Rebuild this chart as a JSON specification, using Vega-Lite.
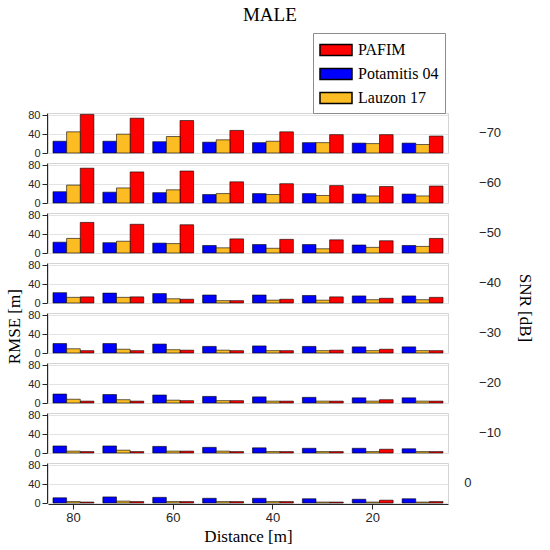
{
  "$schema": "https://vega.github.io/schema/vega-lite/v6.json",
  "description": "MALE: RMSE per distance and SNR for three localisation methods, one row of grouped bars per SNR level.",
  "background": "white",
  "padding": 5,
  "title": {"text": "MALE", "font": "Liberation Serif", "fontSize": 19, "fontWeight": "normal", "color": "#000", "anchor": "middle", "offset": 8},
  "data": {"values": [
    {"method": "PAFIM", "distance": 80, "snr": 0, "rmse": 2},
    {"method": "PAFIM", "distance": 80, "snr": -10, "rmse": 3},
    {"method": "PAFIM", "distance": 80, "snr": -20, "rmse": 4},
    {"method": "PAFIM", "distance": 80, "snr": -30, "rmse": 5},
    {"method": "PAFIM", "distance": 80, "snr": -40, "rmse": 13},
    {"method": "PAFIM", "distance": 80, "snr": -50, "rmse": 65},
    {"method": "PAFIM", "distance": 80, "snr": -60, "rmse": 74},
    {"method": "PAFIM", "distance": 80, "snr": -70, "rmse": 82},
    {"method": "PAFIM", "distance": 70, "snr": 0, "rmse": 3},
    {"method": "PAFIM", "distance": 70, "snr": -10, "rmse": 3},
    {"method": "PAFIM", "distance": 70, "snr": -20, "rmse": 4},
    {"method": "PAFIM", "distance": 70, "snr": -30, "rmse": 5},
    {"method": "PAFIM", "distance": 70, "snr": -40, "rmse": 13},
    {"method": "PAFIM", "distance": 70, "snr": -50, "rmse": 61},
    {"method": "PAFIM", "distance": 70, "snr": -60, "rmse": 66},
    {"method": "PAFIM", "distance": 70, "snr": -70, "rmse": 74},
    {"method": "PAFIM", "distance": 60, "snr": 0, "rmse": 3},
    {"method": "PAFIM", "distance": 60, "snr": -10, "rmse": 4},
    {"method": "PAFIM", "distance": 60, "snr": -20, "rmse": 5},
    {"method": "PAFIM", "distance": 60, "snr": -30, "rmse": 6},
    {"method": "PAFIM", "distance": 60, "snr": -40, "rmse": 8},
    {"method": "PAFIM", "distance": 60, "snr": -50, "rmse": 60},
    {"method": "PAFIM", "distance": 60, "snr": -60, "rmse": 68},
    {"method": "PAFIM", "distance": 60, "snr": -70, "rmse": 69},
    {"method": "PAFIM", "distance": 50, "snr": 0, "rmse": 3},
    {"method": "PAFIM", "distance": 50, "snr": -10, "rmse": 3},
    {"method": "PAFIM", "distance": 50, "snr": -20, "rmse": 5},
    {"method": "PAFIM", "distance": 50, "snr": -30, "rmse": 5},
    {"method": "PAFIM", "distance": 50, "snr": -40, "rmse": 5},
    {"method": "PAFIM", "distance": 50, "snr": -50, "rmse": 30},
    {"method": "PAFIM", "distance": 50, "snr": -60, "rmse": 45},
    {"method": "PAFIM", "distance": 50, "snr": -70, "rmse": 48},
    {"method": "PAFIM", "distance": 40, "snr": 0, "rmse": 3},
    {"method": "PAFIM", "distance": 40, "snr": -10, "rmse": 3},
    {"method": "PAFIM", "distance": 40, "snr": -20, "rmse": 4},
    {"method": "PAFIM", "distance": 40, "snr": -30, "rmse": 5},
    {"method": "PAFIM", "distance": 40, "snr": -40, "rmse": 8},
    {"method": "PAFIM", "distance": 40, "snr": -50, "rmse": 29},
    {"method": "PAFIM", "distance": 40, "snr": -60, "rmse": 41},
    {"method": "PAFIM", "distance": 40, "snr": -70, "rmse": 45},
    {"method": "PAFIM", "distance": 30, "snr": 0, "rmse": 2},
    {"method": "PAFIM", "distance": 30, "snr": -10, "rmse": 3},
    {"method": "PAFIM", "distance": 30, "snr": -20, "rmse": 4},
    {"method": "PAFIM", "distance": 30, "snr": -30, "rmse": 6},
    {"method": "PAFIM", "distance": 30, "snr": -40, "rmse": 13},
    {"method": "PAFIM", "distance": 30, "snr": -50, "rmse": 28},
    {"method": "PAFIM", "distance": 30, "snr": -60, "rmse": 37},
    {"method": "PAFIM", "distance": 30, "snr": -70, "rmse": 39},
    {"method": "PAFIM", "distance": 20, "snr": 0, "rmse": 6},
    {"method": "PAFIM", "distance": 20, "snr": -10, "rmse": 8},
    {"method": "PAFIM", "distance": 20, "snr": -20, "rmse": 7},
    {"method": "PAFIM", "distance": 20, "snr": -30, "rmse": 8},
    {"method": "PAFIM", "distance": 20, "snr": -40, "rmse": 10},
    {"method": "PAFIM", "distance": 20, "snr": -50, "rmse": 26},
    {"method": "PAFIM", "distance": 20, "snr": -60, "rmse": 35},
    {"method": "PAFIM", "distance": 20, "snr": -70, "rmse": 39},
    {"method": "PAFIM", "distance": 10, "snr": 0, "rmse": 3},
    {"method": "PAFIM", "distance": 10, "snr": -10, "rmse": 3},
    {"method": "PAFIM", "distance": 10, "snr": -20, "rmse": 4},
    {"method": "PAFIM", "distance": 10, "snr": -30, "rmse": 5},
    {"method": "PAFIM", "distance": 10, "snr": -40, "rmse": 12},
    {"method": "PAFIM", "distance": 10, "snr": -50, "rmse": 31},
    {"method": "PAFIM", "distance": 10, "snr": -60, "rmse": 36},
    {"method": "PAFIM", "distance": 10, "snr": -70, "rmse": 36},
    {"method": "Potamitis 04", "distance": 80, "snr": 0, "rmse": 11},
    {"method": "Potamitis 04", "distance": 80, "snr": -10, "rmse": 15},
    {"method": "Potamitis 04", "distance": 80, "snr": -20, "rmse": 19},
    {"method": "Potamitis 04", "distance": 80, "snr": -30, "rmse": 20},
    {"method": "Potamitis 04", "distance": 80, "snr": -40, "rmse": 22},
    {"method": "Potamitis 04", "distance": 80, "snr": -50, "rmse": 23},
    {"method": "Potamitis 04", "distance": 80, "snr": -60, "rmse": 24},
    {"method": "Potamitis 04", "distance": 80, "snr": -70, "rmse": 25},
    {"method": "Potamitis 04", "distance": 70, "snr": 0, "rmse": 13},
    {"method": "Potamitis 04", "distance": 70, "snr": -10, "rmse": 15},
    {"method": "Potamitis 04", "distance": 70, "snr": -20, "rmse": 18},
    {"method": "Potamitis 04", "distance": 70, "snr": -30, "rmse": 20},
    {"method": "Potamitis 04", "distance": 70, "snr": -40, "rmse": 21},
    {"method": "Potamitis 04", "distance": 70, "snr": -50, "rmse": 22},
    {"method": "Potamitis 04", "distance": 70, "snr": -60, "rmse": 23},
    {"method": "Potamitis 04", "distance": 70, "snr": -70, "rmse": 25},
    {"method": "Potamitis 04", "distance": 60, "snr": 0, "rmse": 12},
    {"method": "Potamitis 04", "distance": 60, "snr": -10, "rmse": 14},
    {"method": "Potamitis 04", "distance": 60, "snr": -20, "rmse": 17},
    {"method": "Potamitis 04", "distance": 60, "snr": -30, "rmse": 19},
    {"method": "Potamitis 04", "distance": 60, "snr": -40, "rmse": 20},
    {"method": "Potamitis 04", "distance": 60, "snr": -50, "rmse": 21},
    {"method": "Potamitis 04", "distance": 60, "snr": -60, "rmse": 22},
    {"method": "Potamitis 04", "distance": 60, "snr": -70, "rmse": 24},
    {"method": "Potamitis 04", "distance": 50, "snr": 0, "rmse": 10},
    {"method": "Potamitis 04", "distance": 50, "snr": -10, "rmse": 12},
    {"method": "Potamitis 04", "distance": 50, "snr": -20, "rmse": 14},
    {"method": "Potamitis 04", "distance": 50, "snr": -30, "rmse": 14},
    {"method": "Potamitis 04", "distance": 50, "snr": -40, "rmse": 17},
    {"method": "Potamitis 04", "distance": 50, "snr": -50, "rmse": 16},
    {"method": "Potamitis 04", "distance": 50, "snr": -60, "rmse": 18},
    {"method": "Potamitis 04", "distance": 50, "snr": -70, "rmse": 23},
    {"method": "Potamitis 04", "distance": 40, "snr": 0, "rmse": 10},
    {"method": "Potamitis 04", "distance": 40, "snr": -10, "rmse": 11},
    {"method": "Potamitis 04", "distance": 40, "snr": -20, "rmse": 13},
    {"method": "Potamitis 04", "distance": 40, "snr": -30, "rmse": 15},
    {"method": "Potamitis 04", "distance": 40, "snr": -40, "rmse": 17},
    {"method": "Potamitis 04", "distance": 40, "snr": -50, "rmse": 18},
    {"method": "Potamitis 04", "distance": 40, "snr": -60, "rmse": 20},
    {"method": "Potamitis 04", "distance": 40, "snr": -70, "rmse": 22},
    {"method": "Potamitis 04", "distance": 30, "snr": 0, "rmse": 9},
    {"method": "Potamitis 04", "distance": 30, "snr": -10, "rmse": 10},
    {"method": "Potamitis 04", "distance": 30, "snr": -20, "rmse": 12},
    {"method": "Potamitis 04", "distance": 30, "snr": -30, "rmse": 14},
    {"method": "Potamitis 04", "distance": 30, "snr": -40, "rmse": 16},
    {"method": "Potamitis 04", "distance": 30, "snr": -50, "rmse": 18},
    {"method": "Potamitis 04", "distance": 30, "snr": -60, "rmse": 20},
    {"method": "Potamitis 04", "distance": 30, "snr": -70, "rmse": 22},
    {"method": "Potamitis 04", "distance": 20, "snr": 0, "rmse": 8},
    {"method": "Potamitis 04", "distance": 20, "snr": -10, "rmse": 10},
    {"method": "Potamitis 04", "distance": 20, "snr": -20, "rmse": 11},
    {"method": "Potamitis 04", "distance": 20, "snr": -30, "rmse": 13},
    {"method": "Potamitis 04", "distance": 20, "snr": -40, "rmse": 15},
    {"method": "Potamitis 04", "distance": 20, "snr": -50, "rmse": 17},
    {"method": "Potamitis 04", "distance": 20, "snr": -60, "rmse": 19},
    {"method": "Potamitis 04", "distance": 20, "snr": -70, "rmse": 21},
    {"method": "Potamitis 04", "distance": 10, "snr": 0, "rmse": 9},
    {"method": "Potamitis 04", "distance": 10, "snr": -10, "rmse": 9},
    {"method": "Potamitis 04", "distance": 10, "snr": -20, "rmse": 11},
    {"method": "Potamitis 04", "distance": 10, "snr": -30, "rmse": 13},
    {"method": "Potamitis 04", "distance": 10, "snr": -40, "rmse": 15},
    {"method": "Potamitis 04", "distance": 10, "snr": -50, "rmse": 16},
    {"method": "Potamitis 04", "distance": 10, "snr": -60, "rmse": 19},
    {"method": "Potamitis 04", "distance": 10, "snr": -70, "rmse": 21},
    {"method": "Lauzon 17", "distance": 80, "snr": 0, "rmse": 3},
    {"method": "Lauzon 17", "distance": 80, "snr": -10, "rmse": 4},
    {"method": "Lauzon 17", "distance": 80, "snr": -20, "rmse": 8},
    {"method": "Lauzon 17", "distance": 80, "snr": -30, "rmse": 9},
    {"method": "Lauzon 17", "distance": 80, "snr": -40, "rmse": 12},
    {"method": "Lauzon 17", "distance": 80, "snr": -50, "rmse": 31},
    {"method": "Lauzon 17", "distance": 80, "snr": -60, "rmse": 38},
    {"method": "Lauzon 17", "distance": 80, "snr": -70, "rmse": 45},
    {"method": "Lauzon 17", "distance": 70, "snr": 0, "rmse": 4},
    {"method": "Lauzon 17", "distance": 70, "snr": -10, "rmse": 6},
    {"method": "Lauzon 17", "distance": 70, "snr": -20, "rmse": 7},
    {"method": "Lauzon 17", "distance": 70, "snr": -30, "rmse": 8},
    {"method": "Lauzon 17", "distance": 70, "snr": -40, "rmse": 12},
    {"method": "Lauzon 17", "distance": 70, "snr": -50, "rmse": 25},
    {"method": "Lauzon 17", "distance": 70, "snr": -60, "rmse": 32},
    {"method": "Lauzon 17", "distance": 70, "snr": -70, "rmse": 40},
    {"method": "Lauzon 17", "distance": 60, "snr": 0, "rmse": 3},
    {"method": "Lauzon 17", "distance": 60, "snr": -10, "rmse": 4},
    {"method": "Lauzon 17", "distance": 60, "snr": -20, "rmse": 6},
    {"method": "Lauzon 17", "distance": 60, "snr": -30, "rmse": 7},
    {"method": "Lauzon 17", "distance": 60, "snr": -40, "rmse": 9},
    {"method": "Lauzon 17", "distance": 60, "snr": -50, "rmse": 20},
    {"method": "Lauzon 17", "distance": 60, "snr": -60, "rmse": 28},
    {"method": "Lauzon 17", "distance": 60, "snr": -70, "rmse": 35},
    {"method": "Lauzon 17", "distance": 50, "snr": 0, "rmse": 3},
    {"method": "Lauzon 17", "distance": 50, "snr": -10, "rmse": 4},
    {"method": "Lauzon 17", "distance": 50, "snr": -20, "rmse": 5},
    {"method": "Lauzon 17", "distance": 50, "snr": -30, "rmse": 6},
    {"method": "Lauzon 17", "distance": 50, "snr": -40, "rmse": 5},
    {"method": "Lauzon 17", "distance": 50, "snr": -50, "rmse": 11},
    {"method": "Lauzon 17", "distance": 50, "snr": -60, "rmse": 20},
    {"method": "Lauzon 17", "distance": 50, "snr": -70, "rmse": 28},
    {"method": "Lauzon 17", "distance": 40, "snr": 0, "rmse": 3},
    {"method": "Lauzon 17", "distance": 40, "snr": -10, "rmse": 3},
    {"method": "Lauzon 17", "distance": 40, "snr": -20, "rmse": 4},
    {"method": "Lauzon 17", "distance": 40, "snr": -30, "rmse": 5},
    {"method": "Lauzon 17", "distance": 40, "snr": -40, "rmse": 6},
    {"method": "Lauzon 17", "distance": 40, "snr": -50, "rmse": 10},
    {"method": "Lauzon 17", "distance": 40, "snr": -60, "rmse": 18},
    {"method": "Lauzon 17", "distance": 40, "snr": -70, "rmse": 25},
    {"method": "Lauzon 17", "distance": 30, "snr": 0, "rmse": 2},
    {"method": "Lauzon 17", "distance": 30, "snr": -10, "rmse": 3},
    {"method": "Lauzon 17", "distance": 30, "snr": -20, "rmse": 4},
    {"method": "Lauzon 17", "distance": 30, "snr": -30, "rmse": 5},
    {"method": "Lauzon 17", "distance": 30, "snr": -40, "rmse": 6},
    {"method": "Lauzon 17", "distance": 30, "snr": -50, "rmse": 9},
    {"method": "Lauzon 17", "distance": 30, "snr": -60, "rmse": 16},
    {"method": "Lauzon 17", "distance": 30, "snr": -70, "rmse": 22},
    {"method": "Lauzon 17", "distance": 20, "snr": 0, "rmse": 2},
    {"method": "Lauzon 17", "distance": 20, "snr": -10, "rmse": 3},
    {"method": "Lauzon 17", "distance": 20, "snr": -20, "rmse": 4},
    {"method": "Lauzon 17", "distance": 20, "snr": -30, "rmse": 5},
    {"method": "Lauzon 17", "distance": 20, "snr": -40, "rmse": 7},
    {"method": "Lauzon 17", "distance": 20, "snr": -50, "rmse": 12},
    {"method": "Lauzon 17", "distance": 20, "snr": -60, "rmse": 15},
    {"method": "Lauzon 17", "distance": 20, "snr": -70, "rmse": 20},
    {"method": "Lauzon 17", "distance": 10, "snr": 0, "rmse": 2},
    {"method": "Lauzon 17", "distance": 10, "snr": -10, "rmse": 3},
    {"method": "Lauzon 17", "distance": 10, "snr": -20, "rmse": 4},
    {"method": "Lauzon 17", "distance": 10, "snr": -30, "rmse": 5},
    {"method": "Lauzon 17", "distance": 10, "snr": -40, "rmse": 7},
    {"method": "Lauzon 17", "distance": 10, "snr": -50, "rmse": 14},
    {"method": "Lauzon 17", "distance": 10, "snr": -60, "rmse": 15},
    {"method": "Lauzon 17", "distance": 10, "snr": -70, "rmse": 18}
  ]},
  "vconcat": [{
    "title": {"text": "RMSE [m]", "orient": "left", "anchor": "middle", "font": "Liberation Serif", "fontSize": 17, "fontWeight": "normal", "color": "#000", "offset": 4},
    "facet": {
      "row": {
        "field": "snr",
        "type": "ordinal",
        "sort": "ascending",
        "header": {
          "title": "SNR [dB]",
          "titleOrient": "right",
          "labelOrient": "right",
          "labelAngle": 0,
          "labelAlign": "left",
          "labelPadding": 8,
          "labelExpr": "datum.value < 0 ? '\u2212' + abs(datum.value) : '\u2007\u2007' + datum.value",
          "labelFont": "Liberation Sans",
          "labelFontSize": 13,
          "labelColor": "#262626",
          "titleFont": "Liberation Serif",
          "titleFontSize": 17,
          "titleFontWeight": "normal",
          "titleColor": "#000",
          "titlePadding": 4
        }
      }
    },
    "spacing": 8,
    "spec": {
      "width": 400,
      "height": 40,
      "mark": {"type": "bar", "stroke": "#000", "strokeWidth": 0.6},
      "encoding": {
        "x": {
          "field": "distance",
          "type": "ordinal",
          "sort": "descending",
          "scale": {"paddingInner": 0.18, "paddingOuter": 0.1},
          "axis": {"values": [80, 60, 40, 20], "labelAngle": 0, "title": "Distance [m]", "grid": false}
        },
        "xOffset": {"field": "method", "type": "nominal", "sort": ["Potamitis 04", "Lauzon 17", "PAFIM"]},
        "y": {
          "field": "rmse",
          "type": "quantitative",
          "scale": {"domain": [0, 85], "nice": false},
          "axis": {"values": [0, 40, 80], "title": null, "labelFontSize": 11}
        },
        "color": {
          "field": "method",
          "type": "nominal",
          "scale": {"domain": ["PAFIM", "Potamitis 04", "Lauzon 17"], "range": ["#ff0000", "#0000ff", "#fbbd23"]},
          "legend": {
            "title": null,
            "orient": "none",
            "legendX": 265,
            "legendY": -80,
            "direction": "vertical",
            "fillColor": "white",
            "strokeColor": "#8c8c8c",
            "padding": 6,
            "rowPadding": 4,
            "symbolType": "M-1,-0.55H2.2V0.55H-1Z",
            "symbolSize": 400,
            "symbolStrokeColor": "#000",
            "symbolStrokeWidth": 1.5,
            "symbolOpacity": 1,
            "labelFont": "Liberation Serif",
            "labelFontSize": 16,
            "labelColor": "#000",
            "labelOffset": 17
          }
        }
      }
    }
  }],
  "config": {
    "view": {"stroke": "#d4d4d4"},
    "axis": {
      "labelFont": "Liberation Sans",
      "labelFontSize": 13,
      "labelColor": "#262626",
      "titleFont": "Liberation Serif",
      "titleFontSize": 17,
      "titleFontWeight": "normal",
      "titleColor": "#000",
      "domainColor": "#262626",
      "tickColor": "#262626",
      "gridColor": "#e3e3e3"
    }
  }
}
